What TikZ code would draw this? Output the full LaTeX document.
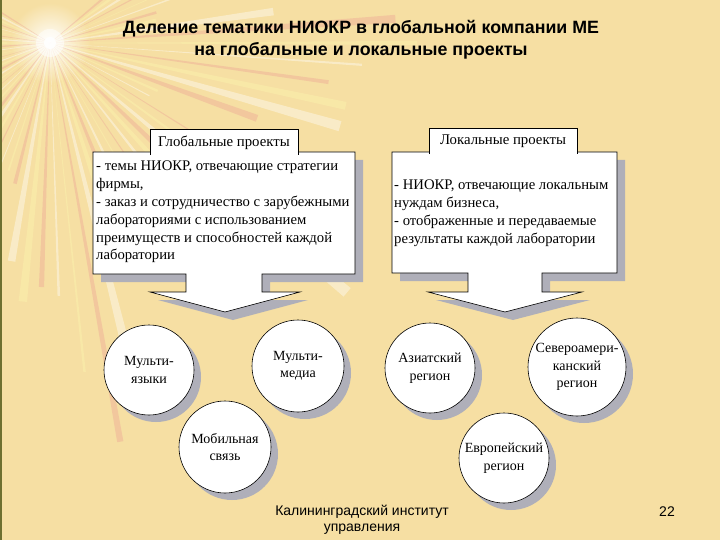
\documentclass[tikz,border=0pt]{standalone}
\usepackage{fontspec}
\setmainfont{Liberation Serif}
\newfontfamily\arialf{Liberation Sans}
\usetikzlibrary{calc,shadows,fadings}
\definecolor{bg}{RGB}{246,223,163}
\definecolor{shadowc}{RGB}{175,175,185}
\definecolor{raypink}{RGB}{236,165,150}
\definecolor{rayyellow}{RGB}{252,246,175}
\definecolor{edgec}{RGB}{110,112,48}
\tikzfading[name=sunfade, inner color=transparent!0, outer color=transparent!100]
\tikzset{
  boxtext/.style={anchor=north west, inner sep=0pt, align=left, font=\fontsize{14.7}{17.8}\selectfont},
  tabbox/.style={fill=white, inner sep=0pt, minimum width=148, minimum height=25, font=\fontsize{14.8}{17}\selectfont},
  callout/.style={fill=white, draw=black, line width=0.6pt},
  calloutshadow/.style={fill=shadowc},
  circ/.style={circle, draw=black, fill=white, line width=0.6pt, inner sep=0pt, align=center,
    font=\fontsize{14}{17.5}\selectfont,
    drop shadow={shadow xshift=7pt, shadow yshift=-7pt, fill=shadowc, opacity=1}},
  sans/.style={font=\arialf\fontsize{14}{16}\selectfont}
}
\begin{document}
\begin{tikzpicture}[x=1pt,y=-1pt]
\useasboundingbox (0,0) rectangle (720,540);
\fill[bg] (0,0) rectangle (720,540);
% sunburst
\coordinate (sun) at (50,43);
\shade[inner color=white, outer color=bg] (sun) circle (40);
\begin{scope}[scope fading=sunfade, fit fading=false, fading transform={shift={(sun)}, scale=7}]
\foreach \a [count=\i] in {-40,-36,...,215} {
  \pgfmathsetmacro\L{260+100*sin(37*\i)+70*cos(71*\i)}
  \pgfmathsetmacro\w{0.6+0.4*sin(53*\i)}
  \pgfmathtruncatemacro\k{mod(\i,3)}
  \ifcase\k \def\rc{white}\or\def\rc{raypink}\or\def\rc{rayyellow}\fi
  \fill[\rc, opacity=0.4] (sun) -- ($(sun)+(\a-\w:\L)$) -- ($(sun)+(\a+\w:\L)$) -- cycle;
}
\end{scope}
\fill[white, opacity=0.5] (sun) circle (14);
\fill[white, opacity=0.9] (sun) circle (6);
\fill[edgec] (0,0) rectangle (2,540);
% title
\node[font=\arialf\bfseries\fontsize{17.8}{22.5}\selectfont, align=center] (title) at (361,39.5)
  {Деление тематики НИОКР в глобальной компании МЕ\\на глобальные и локальные проекты};
% left callout
\fill[calloutshadow, shift={(8,8)}] (93,152) -- (355,152) -- (355,274) -- (262,274) -- (262,292) -- (300,292) -- (225,312) -- (150,292) -- (186,292) -- (186,274) -- (93,274) -- cycle;
\draw[callout] (93,152) -- (355,152) -- (355,274) -- (262,274) -- (262,292) -- (300,292) -- (225,312) -- (150,292) -- (186,292) -- (186,274) -- (93,274) -- cycle;
\node[tabbox] (gtab) at (224,142.5) {Глобальные проекты};
\draw[line width=0.6pt] (gtab.south west) -- (gtab.north west) -- (gtab.north east) -- (gtab.south east);
\node[boxtext] (gtext) at (96,161) {- темы НИОКР, отвечающие стратегии\\фирмы,\\- заказ и сотрудничество с зарубежными\\лабораториями с использованием\\преимуществ и способностей каждой\\лаборатории};
% right callout
\fill[calloutshadow, shift={(8,8)}] (392,152) -- (617,152) -- (617,273) -- (542,273) -- (542,292) -- (582,292) -- (505,312) -- (428,292) -- (468,292) -- (468,273) -- (392,273) -- cycle;
\draw[callout] (392,152) -- (617,152) -- (617,273) -- (542,273) -- (542,292) -- (582,292) -- (505,312) -- (428,292) -- (468,292) -- (468,273) -- (392,273) -- cycle;
\node[tabbox] (ltab) at (503,141.5) {Локальные проекты};
\draw[line width=0.6pt] (ltab.south west) -- (ltab.north west) -- (ltab.north east) -- (ltab.south east);
\node[boxtext] (ltext) at (394,180) {- НИОКР, отвечающие локальным\\нуждам бизнеса,\\- отображенные и передаваемые\\результаты каждой лаборатории};
% circles
\node[circ, minimum size=90] (c1) at (149,370) {Мульти-\\языки};
\node[circ, minimum size=92] (c2) at (298,366) {Мульти-\\медиа};
\node[circ, minimum size=92] (c3) at (225,447) {Мобильная\\связь};
\node[circ, minimum size=90] (c4) at (430,368) {Азиатский\\регион};
\node[circ, minimum size=98] (c5) at (577,367) {Североамери-\\канский\\регион};
\node[circ, minimum size=90] (c6) at (504,458) {Европейский\\регион};
% footer
\node[sans, align=center] (foot) at (362,520) {Калининградский институт\\управления};
\node[sans] (num) at (667,512) {22};
\end{tikzpicture}
\end{document}
